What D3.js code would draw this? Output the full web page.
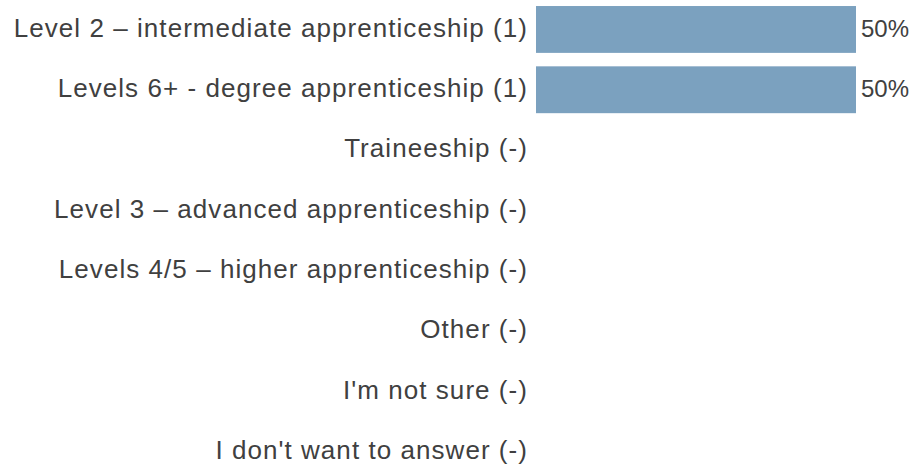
<!DOCTYPE html>
<html><head><meta charset="utf-8">
<script src="https://cdn.jsdelivr.net/npm/d3@7"></script>
<style>body{margin:0;background:#fff}svg{display:block}</style>
</head><body>
<svg id="c" width="912" height="466"></svg>
<script>
const categories = [
  "Level 2 – intermediate apprenticeship (1)",
  "Levels 6+ - degree apprenticeship (1)",
  "Traineeship (-)",
  "Level 3 – advanced apprenticeship (-)",
  "Levels 4/5 – higher apprenticeship (-)",
  "Other (-)",
  "I'm not sure (-)",
  "I don't want to answer (-)"
];
const values = [0.5, 0.5, null, null, null, null, null, null];
const valueLabels = ["50%", "50%", "", "", "", "", "", ""];

const svg = d3.select("#c");
const x = d3.scaleLinear().domain([0, 0.5]).range([536, 856]);
const y = d3.scaleBand().domain(categories).range([0, 481]).paddingInner(0.223).paddingOuter(0.1);

svg.append("g").selectAll("rect").data(categories.map((c,i)=>({c,v:values[i]})).filter(d=>d.v!=null))
  .enter().append("rect")
  .attr("x", x(0)).attr("y", d=>y(d.c))
  .attr("width", d=>x(d.v)-x(0)).attr("height", y.bandwidth())
  .attr("fill", "#7ba1bf");

svg.append("g").selectAll("text").data(categories).enter().append("text")
  .attr("x", 528).attr("y", d=>y(d)+y.bandwidth()/2).attr("dy","0.28em")
  .attr("text-anchor","end")
  .style("font-family","'Liberation Sans', Arial, sans-serif").style("font-size","26px")
  .style("letter-spacing","1.05px")
  .attr("fill","#404040").text(d=>d);

svg.append("g").selectAll("text").data(categories.map((c,i)=>({c,v:values[i],l:valueLabels[i]})).filter(d=>d.v!=null))
  .enter().append("text")
  .attr("x", d=>x(d.v)+5).attr("y", d=>y(d.c)+y.bandwidth()/2).attr("dy","0.32em")
  .style("font-family","'Liberation Sans', Arial, sans-serif").style("font-size","24px")
  .attr("fill","#404040").text(d=>d.l);
</script>
</body></html>
